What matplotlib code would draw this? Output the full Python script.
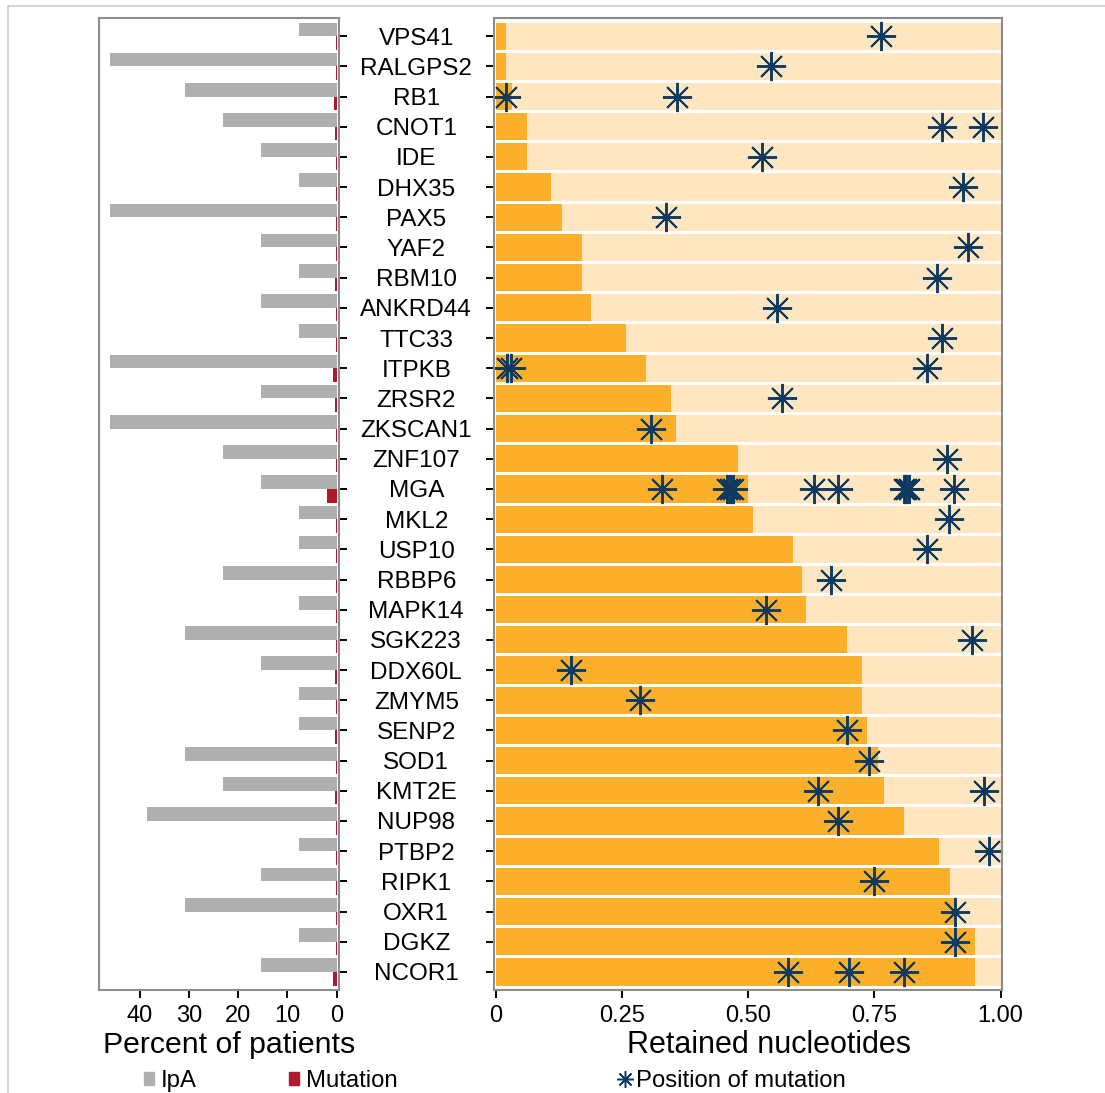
import matplotlib
matplotlib.use("Agg")
import matplotlib.pyplot as plt
from matplotlib.patches import Patch
from matplotlib.lines import Line2D
import numpy as np

plt.rcParams['font.family'] = ['Liberation Sans', 'DejaVu Sans']

genes = ['VPS41', 'RALGPS2', 'RB1', 'CNOT1', 'IDE', 'DHX35', 'PAX5', 'YAF2',
         'RBM10', 'ANKRD44', 'TTC33', 'ITPKB', 'ZRSR2', 'ZKSCAN1', 'ZNF107', 'MGA',
         'MKL2', 'USP10', 'RBBP6', 'MAPK14', 'SGK223', 'DDX60L', 'ZMYM5', 'SENP2',
         'SOD1', 'KMT2E', 'NUP98', 'PTBP2', 'RIPK1', 'OXR1', 'DGKZ', 'NCOR1']

# percent of patients with IpA
ipa_pct = [7.7, 46.2, 30.8, 23.1, 15.4, 7.7, 46.2, 15.4,
           7.7, 15.4, 7.7, 46.2, 15.4, 46.2, 23.1, 15.4,
           7.7, 7.7, 23.1, 7.7, 30.8, 15.4, 7.7, 7.7,
           30.8, 23.1, 38.5, 7.7, 15.4, 30.8, 7.7, 15.4]

# percent of patients with mutation
mut_pct = [0.1, 0.1, 0.55, 0.3, 0.1, 0.1, 0.1, 0.1,
           0.3, 0.1, 0.1, 0.8, 0.4, 0.1, 0.1, 2.0,
           0.1, 0.1, 0.1, 0.1, 0.1, 0.3, 0.1, 0.3,
           0.1, 0.4, 0.1, 0.1, 0.1, 0.1, 0.1, 0.7]

# fraction of retained nucleotides
retained = [0.02, 0.02, 0.031, 0.061, 0.061, 0.109, 0.130, 0.171,
            0.171, 0.188, 0.258, 0.297, 0.347, 0.357, 0.480, 0.500,
            0.510, 0.589, 0.607, 0.615, 0.696, 0.725, 0.725, 0.735,
            0.757, 0.770, 0.809, 0.879, 0.899, 0.909, 0.949, 0.949]

# relative positions of mutations
mut_pos = [[0.763], [0.545], [0.020, 0.359], [0.884, 0.965], [0.527],
           [0.926], [0.337], [0.936], [0.874], [0.557], [0.884],
           [0.022, 0.030, 0.854], [0.567], [0.307], [0.894],
           [0.329, 0.458, 0.464, 0.470, 0.630, 0.678, 0.808, 0.813, 0.818, 0.907],
           [0.898], [0.854], [0.664], [0.535], [0.944], [0.149], [0.285],
           [0.696], [0.739], [0.638, 0.968], [0.678], [0.977], [0.749],
           [0.909], [0.909], [0.579, 0.699, 0.809]]

GREY = '#AFAFAF'
RED = '#B2182B'
ORANGE = '#FCAF2B'
LIGHT = '#FDE6C0'
NAVY = '#0E3A62'
FRAME = '#8C8C8C'

fig = plt.figure(figsize=(11.05, 10.93), dpi=100)
ax1 = fig.add_axes([0.0896, 0.0942, 0.2176, 0.8893])
ax2 = fig.add_axes([0.4471, 0.0942, 0.4597, 0.8893])

y = np.arange(len(genes))

# left panel
ax1.barh(y - 0.225, ipa_pct, height=0.45, color=GREY, linewidth=0)
ax1.barh(y + 0.225, mut_pct, height=0.45, color=RED, linewidth=0)
ax1.set_xlim(48.34, -0.57)
ax1.set_ylim(len(genes) - 0.4, -0.6)
ax1.set_xticks([40, 30, 20, 10, 0])
ax1.set_yticks(y)
ax1.yaxis.tick_right()
ax1.tick_params(axis='y', labelright=False)
ax1.set_xlabel('Percent of patients', fontsize=21.8)
ax1.xaxis.set_label_coords(0.543, -0.0566)
ax1.xaxis.label.set_va('center')

# right panel
ax2.barh(y, 1.0, height=0.9, color=LIGHT, linewidth=0)
ax2.barh(y, retained, height=0.9, color=ORANGE, linewidth=0)
star = (8, 2, 0)
for i, pos in enumerate(mut_pos):
    ax2.plot(pos, [i] * len(pos), linestyle='none', marker=star, ms=21,
             mew=1.4, color=NAVY)
ax2.set_xlim(-0.004, 1.003)
ax2.set_ylim(len(genes) - 0.4, -0.6)
ax2.set_xticks([0, 0.25, 0.5, 0.75, 1.0])
ax2.set_xticklabels(['0', '0.25', '0.50', '0.75', '1.00'])
ax2.set_yticks(y)
ax2.set_yticklabels(genes, fontsize=17.5, ha='center')
ax2.tick_params(axis='y', pad=50)
ax2.set_xlabel('Retained nucleotides', fontsize=22)
ax2.xaxis.set_label_coords(0.541, -0.0566)
ax2.xaxis.label.set_va('center')

for ax in (ax1, ax2):
    for s in ax.spines.values():
        s.set_color(FRAME)
        s.set_linewidth(1.5)
    ax.tick_params(length=6, width=1.4, color='black')
    ax.tick_params(axis='x', pad=5, labelsize=17)

# legends
leg1 = fig.legend(handles=[Patch(color=GREY), Patch(color=RED)],
                  labels=['IpA', 'Mutation'], ncol=2, loc='center left',
                  bbox_to_anchor=(0.130, 0.011), frameon=False, fontsize=17.2,
                  handlelength=0.42, handleheight=0.5, handletextpad=0.3,
                  columnspacing=3.85, borderpad=0, borderaxespad=0)
leg2 = fig.legend(handles=[Line2D([], [], linestyle='none', marker=star, ms=12,
                                  mew=1.1, color=NAVY)],
                  labels=['Position of mutation'], loc='center left',
                  bbox_to_anchor=(0.558, 0.011), frameon=False, fontsize=17.2,
                  handlelength=0.7, handletextpad=0.12, borderpad=0,
                  borderaxespad=0)

# outer border
fig.add_artist(Line2D([8 / 1105, 1], [1 - 6 / 1093] * 2, transform=fig.transFigure,
                      color='#CCCCCC', lw=1.2))
fig.add_artist(Line2D([8 / 1105] * 2, [0, 1 - 6 / 1093], transform=fig.transFigure,
                      color='#CCCCCC', lw=1.2))

fig.savefig('out.png', dpi=100)
